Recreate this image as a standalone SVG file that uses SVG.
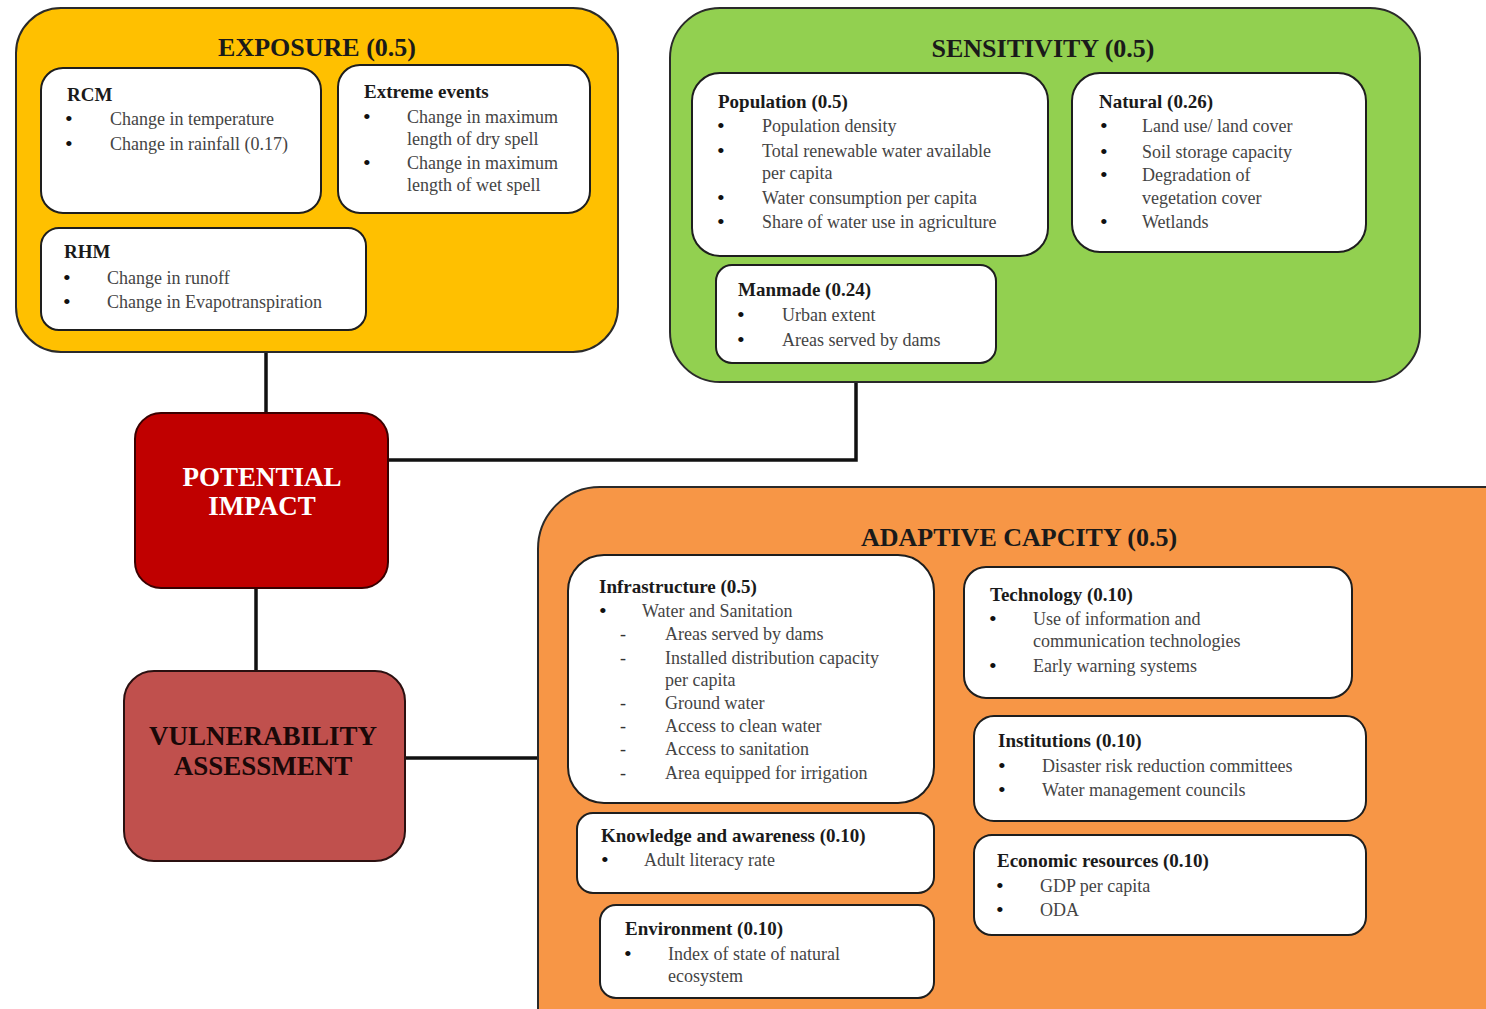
<svg xmlns="http://www.w3.org/2000/svg" width="1486" height="1009" viewBox="0 0 1486 1009">
<style>
.outer{stroke:#2a2a2a;stroke-width:2}
.card{fill:#fff;stroke:#1e1e1e;stroke-width:2}
.title{font-family:"Liberation Serif",serif;font-weight:bold;font-size:26px;fill:#1a1a1a;text-anchor:middle}
.big{font-family:"Liberation Serif",serif;font-weight:bold;font-size:27px;text-anchor:middle}
.h{font-family:"Liberation Serif",serif;font-weight:bold;font-size:19px;fill:#1a1a1a}
.t{font-family:"Liberation Serif",serif;font-size:18px;fill:#444}
.b{font-family:"Liberation Serif",serif;font-size:22px;fill:#111}
.d{font-family:"Liberation Serif",serif;font-size:18px;fill:#333}
.conn{stroke:#111;stroke-width:3.5;fill:none}
</style>
<rect width="1486" height="1009" fill="#fff"/>
<g id="connectors">
<path class="conn" d="M266 352V413"/>
<path class="conn" d="M388 460H856V382"/>
<path class="conn" d="M256 588V671"/>
<path class="conn" d="M405 758H538"/>
</g>
<g id="exposure">
<rect class="outer" x="16" y="8" width="602" height="344" rx="45" fill="#FFC000"/>
<text class="title" x="317" y="56">EXPOSURE (0.5)</text>
<g id="rcm">
<rect class="card" x="41" y="68" width="280" height="145" rx="22"/>
<text class="h" x="67" y="101">RCM</text>
<text class="b" x="65" y="126">•</text><text class="t" x="110" y="125">Change in temperature</text>
<text class="b" x="65" y="151">•</text><text class="t" x="110" y="150">Change in rainfall (0.17)</text>
</g>
<g id="extreme">
<rect class="card" x="338" y="65" width="252" height="148" rx="22"/>
<text class="h" x="364" y="98">Extreme events</text>
<text class="b" x="363" y="124">•</text><text class="t" x="407" y="123">Change in maximum</text>
<text class="t" x="407" y="145">length of dry spell</text>
<text class="b" x="363" y="170">•</text><text class="t" x="407" y="169">Change in maximum</text>
<text class="t" x="407" y="191">length of wet spell</text>
</g>
<g id="rhm">
<rect class="card" x="41" y="228" width="325" height="102" rx="18"/>
<text class="h" x="64" y="258">RHM</text>
<text class="b" x="63" y="285">•</text><text class="t" x="107" y="284">Change in runoff</text>
<text class="b" x="63" y="309">•</text><text class="t" x="107" y="308">Change in Evapotranspiration</text>
</g>
</g>
<g id="sensitivity">
<rect class="outer" x="670" y="8" width="750" height="374" rx="50" fill="#92D050"/>
<text class="title" x="1043" y="57">SENSITIVITY (0.5)</text>
<g id="population">
<rect class="card" x="692" y="73" width="356" height="183" rx="28"/>
<text class="h" x="718" y="108">Population (0.5)</text>
<text class="b" x="717" y="133">•</text><text class="t" x="762" y="132">Population density</text>
<text class="b" x="717" y="158">•</text><text class="t" x="762" y="157">Total renewable water available</text>
<text class="t" x="762" y="179">per capita</text>
<text class="b" x="717" y="205">•</text><text class="t" x="762" y="204">Water consumption per capita</text>
<text class="b" x="717" y="229">•</text><text class="t" x="762" y="228">Share of water use in agriculture</text>
</g>
<g id="natural">
<rect class="card" x="1072" y="73" width="294" height="179" rx="28"/>
<text class="h" x="1099" y="108">Natural (0.26)</text>
<text class="b" x="1100" y="133">•</text><text class="t" x="1142" y="132">Land use/ land cover</text>
<text class="b" x="1100" y="159">•</text><text class="t" x="1142" y="158">Soil storage capacity</text>
<text class="b" x="1100" y="182">•</text><text class="t" x="1142" y="181">Degradation of</text>
<text class="t" x="1142" y="204">vegetation cover</text>
<text class="b" x="1100" y="229">•</text><text class="t" x="1142" y="228">Wetlands</text>
</g>
<g id="manmade">
<rect class="card" x="716" y="265" width="280" height="98" rx="16"/>
<text class="h" x="738" y="296">Manmade (0.24)</text>
<text class="b" x="737" y="322">•</text><text class="t" x="782" y="321">Urban extent</text>
<text class="b" x="737" y="347">•</text><text class="t" x="782" y="346">Areas served by dams</text>
</g>
</g>
<g id="potential-impact">
<rect x="135" y="413" width="253" height="175" rx="26" fill="#C00000" stroke="#3a0000" stroke-width="2"/>
<text class="big" x="262" y="486" fill="#fff">POTENTIAL</text>
<text class="big" x="262" y="515" fill="#fff">IMPACT</text>
</g>
<g id="vulnerability-assessment">
<rect x="124" y="671" width="281" height="190" rx="30" fill="#C0504D" stroke="#2a1010" stroke-width="2"/>
<text class="big" x="263" y="745" fill="#1a0808">VULNERABILITY</text>
<text class="big" x="263" y="775" fill="#1a0808">ASSESSMENT</text>
</g>
<g id="adaptive-capacity">
<rect class="outer" x="538" y="487" width="1010" height="600" rx="62" fill="#F79646"/>
<text class="title" x="1019" y="546">ADAPTIVE CAPCITY (0.5)</text>
<g id="infrastructure">
<rect class="card" x="568" y="555" width="366" height="248" rx="36"/>
<text class="h" x="599" y="593">Infrastructure (0.5)</text>
<text class="b" x="599" y="618">•</text><text class="t" x="642" y="617">Water and Sanitation</text>
<text class="d" x="620" y="640">-</text><text class="t" x="665" y="640">Areas served by dams</text>
<text class="d" x="620" y="664">-</text><text class="t" x="665" y="664">Installed distribution capacity</text>
<text class="t" x="665" y="686">per capita</text>
<text class="d" x="620" y="709">-</text><text class="t" x="665" y="709">Ground water</text>
<text class="d" x="620" y="732">-</text><text class="t" x="665" y="732">Access to clean water</text>
<text class="d" x="620" y="755">-</text><text class="t" x="665" y="755">Access to sanitation</text>
<text class="d" x="620" y="779">-</text><text class="t" x="665" y="779">Area equipped for irrigation</text>
</g>
<g id="technology">
<rect class="card" x="964" y="567" width="388" height="131" rx="22"/>
<text class="h" x="990" y="601">Technology (0.10)</text>
<text class="b" x="989" y="626">•</text><text class="t" x="1033" y="625">Use of information and</text>
<text class="t" x="1033" y="647">communication technologies</text>
<text class="b" x="989" y="673">•</text><text class="t" x="1033" y="672">Early warning systems</text>
</g>
<g id="institutions">
<rect class="card" x="974" y="716" width="392" height="105" rx="20"/>
<text class="h" x="998" y="747">Institutions (0.10)</text>
<text class="b" x="998" y="773">•</text><text class="t" x="1042" y="772">Disaster risk reduction committees</text>
<text class="b" x="998" y="797">•</text><text class="t" x="1042" y="796">Water management councils</text>
</g>
<g id="knowledge">
<rect class="card" x="577" y="813" width="357" height="80" rx="16"/>
<text class="h" x="601" y="842">Knowledge and awareness (0.10)</text>
<text class="b" x="601" y="867">•</text><text class="t" x="644" y="866">Adult literacy rate</text>
</g>
<g id="economic">
<rect class="card" x="974" y="835" width="392" height="100" rx="18"/>
<text class="h" x="997" y="867">Economic resources (0.10)</text>
<text class="b" x="996" y="893">•</text><text class="t" x="1040" y="892">GDP per capita</text>
<text class="b" x="996" y="917">•</text><text class="t" x="1040" y="916">ODA</text>
</g>
<g id="environment">
<rect class="card" x="600" y="905" width="334" height="93" rx="16"/>
<text class="h" x="625" y="935">Environment (0.10)</text>
<text class="b" x="624" y="961">•</text><text class="t" x="668" y="960">Index of state of natural</text>
<text class="t" x="668" y="982">ecosystem</text>
</g>
</g>
</svg>
